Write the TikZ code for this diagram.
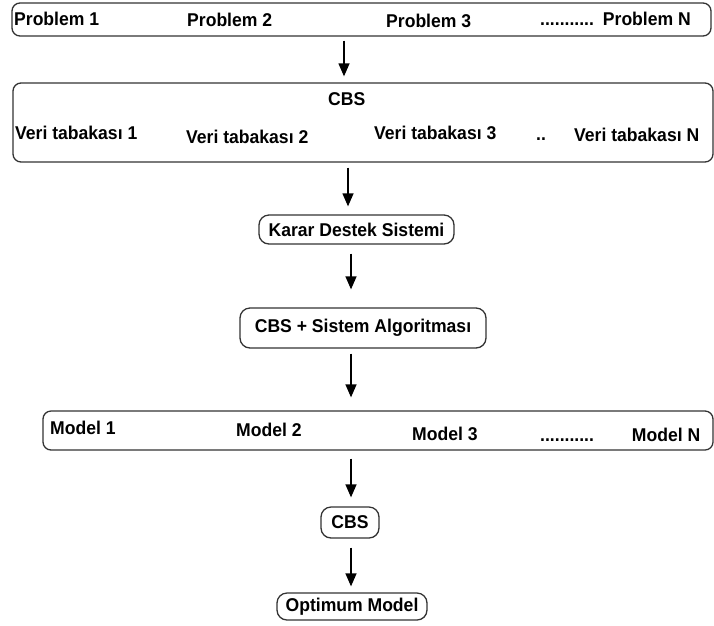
\documentclass[tikz,border=0pt]{standalone}
\usepackage{fontspec}
\setmainfont[FakeStretch=0.95]{Liberation Sans}
\usepackage{tikz}
\usetikzlibrary{shapes,arrows.meta}
\definecolor{boxgray}{HTML}{333333}
\tikzstyle{frame} = [rectangle, draw=boxgray, line width=1.3pt,
    rounded corners=8pt, inner sep=0pt]
\tikzstyle{block} = [rectangle, draw=boxgray, line width=1.3pt,
    rounded corners=10pt, inner sep=0pt,
    font=\fontsize{18.5}{20}\selectfont\bfseries]
\tikzstyle{item} = [anchor=base west, inner sep=0pt,
    font=\fontsize{18.5}{20}\selectfont\bfseries]
\tikzstyle{line} = [draw, line width=1.3pt, -{Triangle[width=11pt,length=13pt]}]

\begin{document}
\begin{tikzpicture}[x=1pt, y=-1pt]
  \useasboundingbox (0,0) rectangle (714,625);
  % Place nodes
  \node [frame, minimum width=699pt, minimum height=33pt] (prob) at (361.5,19.5) {};
  \node [item] (p1) at (14,25) {Problem 1};
  \node [item] (p2) at (187,26) {Problem 2};
  \node [item] (p3) at (386,27) {Problem 3};
  \node [item] (pn) at (540,25) {...........\hspace{9pt}Problem N};

  \node [frame, minimum width=700pt, minimum height=79pt] (cbsbox) at (363,122.5) {};
  \node [item] (cbstitle) at (328,105) {CBS};
  \node [item] (v1) at (15,139) {Veri tabakası 1};
  \node [item] (v2) at (186,143) {Veri tabakası 2};
  \node [item] (v3) at (374,139) {Veri tabakası 3};
  \node [item] (vdots) at (536,140) {..};
  \node [item] (vn) at (574,141) {Veri tabakası N};

  \node [block, minimum width=195pt, minimum height=29pt] (kds) at (356.5,229.5) {Karar Destek Sistemi};
  \node [block, minimum width=246pt, minimum height=40pt] (alg) at (363,328) {CBS + Sistem Algoritması};

  \node [frame, minimum width=670pt, minimum height=39pt] (models) at (378,430.5) {};
  \node [item] (m1) at (50,434) {Model 1};
  \node [item] (m2) at (236,436) {Model 2};
  \node [item] (m3) at (412,440) {Model 3};
  \node [item] (mn) at (540,441) {...........\hspace{38pt}Model N};

  \node [block, minimum width=58pt, minimum height=31pt] (cbs) at (350,522.5) {CBS};
  \node [block, minimum width=150pt, minimum height=27pt] (opt) at (352,606.5) {Optimum Model};

  % Draw edges
  \coordinate (a1) at (344,0);
  \coordinate (a2) at (348,0);
  \coordinate (a3) at (351,0);
  \path [line, shorten <=4pt, shorten >=6pt] (prob.south -| a1) -- (cbsbox.north -| a1);
  \path [line, shorten <=5pt, shorten >=8pt] (cbsbox.south -| a2) -- (kds.north -| a2);
  \path [line, shorten <=9pt, shorten >=18pt] (kds.south -| a3) -- (alg.north -| a3);
  \path [line, shorten <=5pt, shorten >=13pt] (alg.south -| a3) -- (models.north -| a3);
  \path [line, shorten <=8pt, shorten >=9pt] (models.south -| a3) -- (cbs.north -| a3);
  \path [line, shorten <=9pt, shorten >=6pt] (cbs.south -| a3) -- (opt.north -| a3);
\end{tikzpicture}
\end{document}
